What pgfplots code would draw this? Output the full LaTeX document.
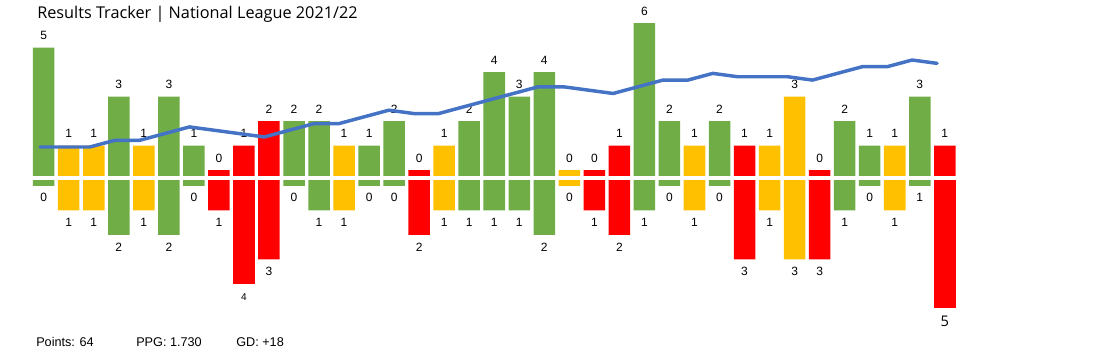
\documentclass[border=0pt]{standalone}
\usepackage{pgfplots}
\pgfplotsset{compat=1.18}
\usepackage{fontspec}
\setmainfont{Liberation Sans}
\newfontfamily\titlefont{Open Sans}
\definecolor{cW}{HTML}{70AD47}
\definecolor{cD}{HTML}{FFC000}
\definecolor{cL}{HTML}{FF0000}
\definecolor{cLine}{HTML}{4472C4}
\pgfplotsset{
  up/.style={ybar, bar width=0.86, bar shift=0pt, draw=none, fill=#1,
    y filter/.expression={y+0.32}, point meta=explicit,
    nodes near coords,
    every node near coord/.append style={anchor=center, yshift=9pt, font=\fontsize{9}{10}\selectfont, text=black}},
  down/.style={ybar, bar width=0.86, bar shift=0pt, draw=none, fill=#1,
    y filter/.expression={y-0.32}, point meta=explicit,
    nodes near coords,
    every node near coord/.append style={anchor=center, yshift=-9pt, font=\fontsize{9}{10}\selectfont, text=black}},
}
\begin{document}
\begin{tikzpicture}
\begin{axis}[scale only axis, width=828.75pt, height=266.25pt,
  xmin=-0.746, xmax=43.40, ymin=-7.224, ymax=7.265, hide axis, clip=false,
  /pgf/number format/assume math mode=true]
\path (rel axis cs:0,0) rectangle (rel axis cs:1,1);
% goals scored (above)
\addplot[up=cW] coordinates {(1,5)[5] (4,3)[3] (6,3)[3] (7,1)[1] (11,2)[2] (12,2)[2] (14,1)[1] (15,2)[2] (18,2)[2] (19,4)[4] (20,3)[3] (21,4)[4] (25,6)[6] (26,2)[2] (28,2)[2] (33,2)[2] (34,1)[1] (36,3)[3]};
\addplot[up=cD] coordinates {(2,1)[1] (3,1)[1] (5,1)[1] (13,1)[1] (17,1)[1] (22,0)[0] (27,1)[1] (30,1)[1] (31,3)[3] (35,1)[1]};
\addplot[up=cL] coordinates {(8,0)[0] (9,1)[1] (10,2)[2] (16,0)[0] (23,0)[0] (24,1)[1] (29,1)[1] (32,0)[0] (37,1)[1]};
% goals conceded (below)
\addplot[down=cW] coordinates {(1,0)[0] (4,-2)[2] (6,-2)[2] (7,0)[0] (11,0)[0] (12,-1)[1] (14,0)[0] (15,0)[0] (18,-1)[1] (19,-1)[1] (20,-1)[1] (21,-2)[2] (25,-1)[1] (26,0)[0] (28,0)[0] (33,-1)[1] (34,0)[0] (36,0)[1]};
\addplot[down=cD] coordinates {(2,-1)[1] (3,-1)[1] (5,-1)[1] (13,-1)[1] (17,-1)[1] (22,0)[0] (27,-1)[1] (30,-1)[1] (31,-3)[3] (35,-1)[1]};
\addplot[down=cL] coordinates {(8,-1)[1] (10,-3)[3] (16,-2)[2] (23,-1)[1] (24,-2)[2] (29,-3)[3] (32,-3)[3]};
\addplot[down=cL, every node near coord/.append style={font=\fontsize{7.5}{9}\selectfont, yshift=-1pt}] coordinates {(9,-4)[4]};
\addplot[down=cL, every node near coord/.append style={font=\titlefont\fontsize{11}{13}\selectfont, yshift=-0.5pt}] coordinates {(37,-5)[5]};
\fill[white] (axis cs:-0.746,-0.08) rectangle (axis cs:43.4,0.08);
% texts
\node[anchor=base west, inner sep=0pt, font=\titlefont\fontsize{12.2}{14}\selectfont] at (rel axis cs:0.03348,0.9465) {Results Tracker | National League 2021/22};
\node[anchor=base west, inner sep=0pt, font=\fontsize{9.5}{11}\selectfont] at (rel axis cs:0.0326,0.0234) {Points: 64};
\node[anchor=base west, inner sep=0pt, font=\fontsize{9.5}{11}\selectfont] at (rel axis cs:0.1231,0.0234) {PPG: 1.730};
\node[anchor=base west, inner sep=0pt, font=\fontsize{9.5}{11}\selectfont] at (rel axis cs:0.2136,0.0234) {GD: +18};
\end{axis}
\begin{axis}[scale only axis, width=828.75pt, height=266.25pt,
  xmin=-0.605, xmax=43.74, ymin=-60.16, ymax=45.93, hide axis]
\addplot[cLine, line width=2.6pt, line join=round, line cap=round, mark=none] coordinates {
(1,2) (2,2) (3,2) (4,4) (5,4) (6,6) (7,8) (8,7) (9,6) (10,5)
(11,7) (12,9) (13,9) (14,11) (15,13) (16,12) (17,12) (18,14) (19,16) (20,18)
(21,20) (22,20) (23,19) (24,18) (25,20) (26,22) (27,22) (28,24) (29,23) (30,23)
(31,23) (32,22) (33,24) (34,26) (35,26) (36,28) (37,27)};
\end{axis}
\end{tikzpicture}
\end{document}
